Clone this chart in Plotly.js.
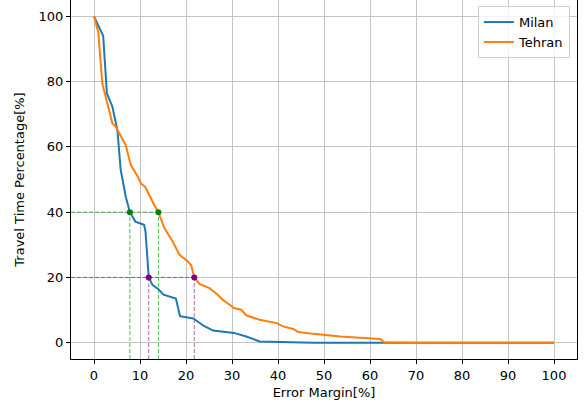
<!DOCTYPE html>
<html><head><meta charset="utf-8">
<script src="https://cdn.plot.ly/plotly-3.0.1.min.js"></script>
<style>html,body{margin:0;padding:0;background:#fff}#chart{width:584px;height:408px}</style>
</head><body><div id="chart"></div>
<script>
const milanX = [0, 2, 2.8, 4.0, 5.1, 5.8, 6.9, 7.8, 9.0, 10.9, 11.2, 11.9, 12.7, 14.0, 15.1, 17.8, 18.7, 21.6, 23.8, 25.9, 30.4, 33.1, 36.0, 46.2, 47.7, 62, 100];
const milanY = [100, 94, 76.4, 72.3, 65, 53, 44.7, 40, 37.1, 36.1, 34, 20, 17.7, 16.4, 14.7, 13.5, 8.1, 7.4, 5.2, 3.7, 3.0, 1.9, 0.4, 0.2, 0, 0, 0];
const tehranX = [0, 0.95, 1.8, 4.0, 4.7, 6.9, 8.0, 9.5, 10.2, 11.1, 13.1, 14.0, 15.3, 17.1, 18.6, 20.4, 21.1, 21.8, 22.9, 25.1, 26.9, 28.0, 29.8, 30.4, 32.0, 33.1, 36.0, 39.7, 41.1, 43.3, 44.4, 47.7, 53.5, 58.6, 62.2, 63.1, 70, 100];
const tehranY = [100, 95, 79.4, 67.2, 66.2, 60.5, 54.4, 50.9, 48.8, 47.8, 42.2, 40, 35.1, 31.0, 26.9, 24.9, 23.8, 20.1, 18.0, 16.7, 14.7, 13.1, 11.3, 10.6, 10.1, 8.4, 7.0, 6.0, 5.0, 4.2, 3.3, 2.7, 1.9, 1.4, 1.1, 0.1, 0, 0];
const levels = [40, 20];
const levelColors = ['green', 'purple'];
const levelLineColors = ['rgba(0,170,0,0.7)', 'rgba(128,0,128,0.6)'];
const milanCross = [7.8, 11.9];
const tehranCross = [14.0, 21.8];
const xRange = [-5, 105];
const yRange = [-5, 105];
const xTicks = [0,10,20,30,40,50,60,70,80,90,100];
const yTicks = [0,20,40,60,80,100];

const traces = [];
levels.forEach((lv, i) => {
  const pts = [milanCross[i], tehranCross[i]];
  const right = Math.max(...pts);
  traces.push({x: [xRange[0], right], y: [lv, lv], mode: 'lines', showlegend: false, hoverinfo: 'skip',
    line: {color: levelLineColors[i], width: 1, dash: '4px,2px'}});
  pts.forEach(p => {
    traces.push({x: [p, p], y: [yRange[0], lv], mode: 'lines', showlegend: false, hoverinfo: 'skip',
      line: {color: levelLineColors[i], width: 1, dash: '4px,2px'}});
  });
});
traces.push({x: milanX, y: milanY, mode: 'lines', name: 'Milan', line: {color: '#1f77b4', width: 2}});
traces.push({x: tehranX, y: tehranY, mode: 'lines', name: 'Tehran', line: {color: '#ff7f0e', width: 2}});
levels.forEach((lv, i) => {
  traces.push({x: [milanCross[i], tehranCross[i]], y: [lv, lv], mode: 'markers', showlegend: false,
    marker: {color: levelColors[i], size: 6}});
});

const axisCommon = {
  showline: true, mirror: true, linecolor: '#000', linewidth: 1,
  ticks: 'outside', ticklen: 4, tickcolor: '#000', tickwidth: 1,
  showgrid: true, gridcolor: '#c4c4c4', gridwidth: 1, zeroline: false,
  tickfont: {family: 'DejaVu Sans', size: 13, color: '#000'}
};
const layout = {
  width: 584, height: 408,
  margin: {l: 71, r: 7, t: 0, b: 49},
  paper_bgcolor: '#fff', plot_bgcolor: '#fff',
  font: {family: 'DejaVu Sans', color: '#000'},
  xaxis: Object.assign({}, axisCommon, {range: xRange, tickvals: xTicks,
    title: {text: 'Error Margin[%]', font: {size: 13}, standoff: 6}}),
  yaxis: Object.assign({}, axisCommon, {range: yRange, tickvals: yTicks,
    title: {text: 'Travel Time Percentage[%]', font: {size: 13}, standoff: 11}}),
  legend: {x: 0.986, y: 0.983, xanchor: 'right', yanchor: 'top', bgcolor: 'rgba(255,255,255,0.8)',
    bordercolor: '#d0d0d0', borderwidth: 1, font: {size: 13, family: 'DejaVu Sans'}},
  showlegend: true
};
Plotly.newPlot('chart', traces, layout, {staticPlot: true});
</script></body></html>
